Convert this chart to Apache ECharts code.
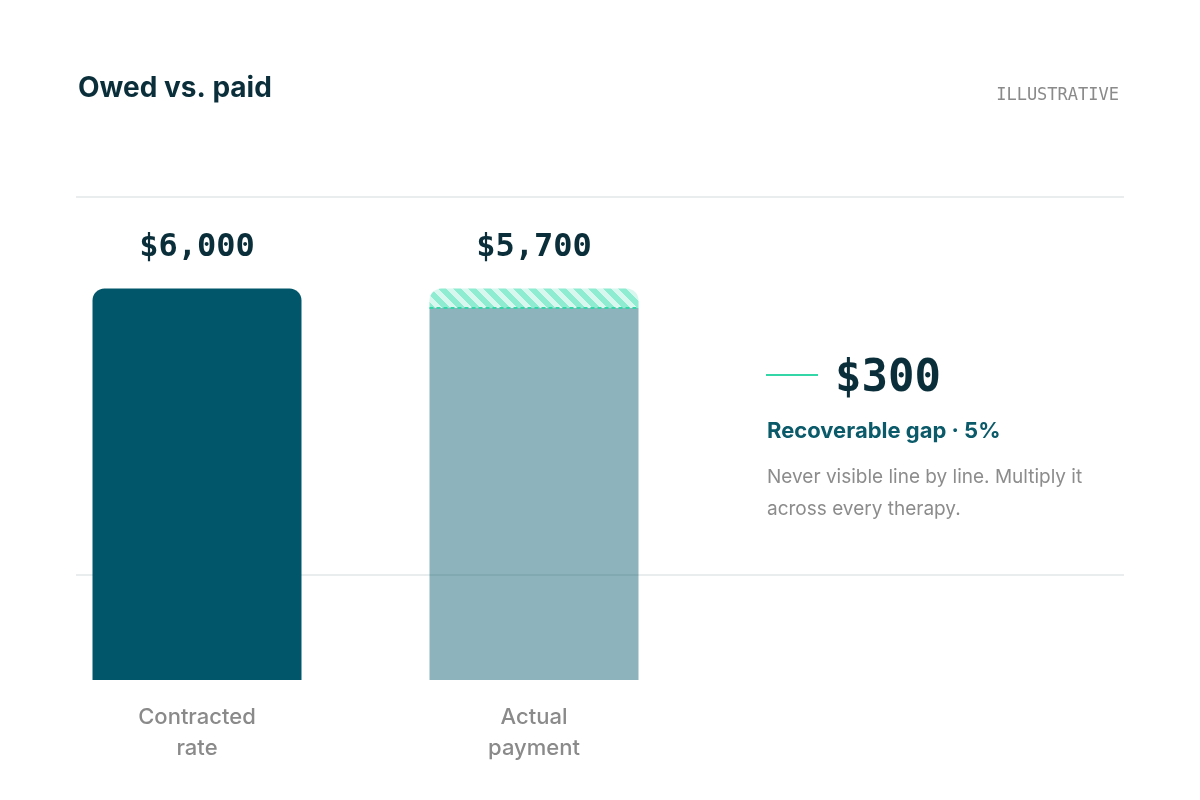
<!DOCTYPE html>
<html>
<head>
<meta charset="utf-8">
<script src="https://cdn.jsdelivr.net/npm/echarts@6/dist/echarts.min.js"></script>
<style>
  html, body { margin: 0; padding: 0; background: #fff; }
  #main { width: 1200px; height: 800px; }
</style>
</head>
<body>
<div id="main"></div>
<script>
// data
var categories = ['Contracted\nrate', 'Actual\npayment'];
var amounts = [6000, 5700];
var gapValues = ['-', amounts[0] - amounts[1]];
var baseValues = [amounts[0], amounts[1]];

var dark = '#0b2f3a';
var teal = '#02566a';
var mint = '#34d6a8';

function money(v) {
    return '$' + v.toLocaleString('en-US');
}

// diagonal stripes for the gap segment
function stripes() {
    var s = 15;
    var c = document.createElement('canvas');
    c.width = s; c.height = s;
    var ctx = c.getContext('2d');
    var img = ctx.createImageData(s, s);
    for (var y = 0; y < s; y++) {
        for (var x = 0; x < s; x++) {
            var on = (((x - y) % s) + s) % s < s / 2;
            var i = (y * s + x) * 4;
            var col = on ? [142, 236, 208] : [216, 247, 238];
            img.data[i] = col[0]; img.data[i + 1] = col[1]; img.data[i + 2] = col[2]; img.data[i + 3] = 255;
        }
    }
    ctx.putImageData(img, 0, 0);
    return { image: c, repeat: 'repeat' };
}

var gap = amounts[0] - amounts[1];
var gapPct = Math.round(gap / amounts[0] * 100);
var sans = 'Inter, "Noto Sans", sans-serif';
var mono = '"DejaVu Sans Mono", monospace';
var barW = 209;

var chart = echarts.init(document.getElementById('main'));
var option = {
    backgroundColor: '#fff',
    animation: false,
    title: [{
        text: 'Owed vs. paid',
        left: 73, top: 70,
        textStyle: { fontFamily: sans, fontSize: 28, fontWeight: 700, color: dark }
    }, {
        text: 'ILLUSTRATIVE',
        right: 76, top: 82,
        textStyle: { fontFamily: mono, fontSize: 17, fontWeight: 400, color: '#8a8a8a' }
    }],
    grid: [
        { left: 76, right: 76, top: 197, height: 378 },
        { left: 28.5, width: 674, top: 197, bottom: 120 }
    ],
    xAxis: [
        { gridIndex: 0, type: 'value', show: false, min: 0, max: 1 },
        {
            gridIndex: 1, type: 'category', data: categories,
            axisLine: { show: false }, axisTick: { show: false },
            axisLabel: { color: '#8a8a8a', fontFamily: sans, fontSize: 22, fontWeight: 500, lineHeight: 31, margin: 22 }
        }
    ],
    yAxis: [
        {
            gridIndex: 0, type: 'value', min: 0, max: 1, interval: 1,
            axisLine: { show: false }, axisTick: { show: false }, axisLabel: { show: false },
            splitLine: { show: true, lineStyle: { color: '#e9eded', width: 2 } }
        },
        { gridIndex: 1, type: 'value', min: 0, max: 7400, show: false, splitLine: { show: false } }
    ],
    series: [
        {
            type: 'bar', xAxisIndex: 1, yAxisIndex: 1, stack: 'owed', barWidth: barW,
            data: [
                {
                    value: baseValues[0],
                    itemStyle: { color: teal, borderRadius: [12, 12, 0, 0] },
                    label: {
                        show: true, position: 'top', distance: 25,
                        formatter: function (p) { return money(p.value); },
                        fontFamily: mono, fontSize: 32, fontWeight: 700, color: dark
                    }
                },
                { value: baseValues[1], itemStyle: { color: 'rgba(2,86,106,0.45)', borderRadius: 0 } }
            ]
        },
        {
            type: 'bar', xAxisIndex: 1, yAxisIndex: 1, stack: 'owed', barWidth: barW,
            data: [
                gapValues[0],
                {
                    value: gapValues[1],
                    itemStyle: { color: stripes(), borderRadius: [12, 12, 0, 0] },
                    label: {
                        show: true, position: 'top', distance: 25,
                        formatter: function () { return money(amounts[1]); },
                        fontFamily: mono, fontSize: 32, fontWeight: 700, color: dark
                    }
                }
            ]
        },
        {
            // dashed edge where the payment stops
            type: 'custom', xAxisIndex: 1, yAxisIndex: 1, z: 5,
            data: [[1, amounts[1]]],
            renderItem: function (params, api) {
                var pt = api.coord([api.value(0), api.value(1)]);
                return {
                    type: 'line',
                    shape: { x1: pt[0] - barW / 2, y1: pt[1], x2: pt[0] + barW / 2, y2: pt[1] },
                    style: { stroke: mint, lineWidth: 2, lineDash: [4, 3] }
                };
            }
        }
    ],
    graphic: [
        { type: 'line', shape: { x1: 766, y1: 375, x2: 818, y2: 375 }, style: { stroke: mint, lineWidth: 2 } },
        {
            type: 'text', left: 835, top: 358,
            style: { text: money(gap), font: '700 44px ' + mono, fill: dark }
        },
        {
            type: 'text', left: 767, top: 420,
            style: { text: 'Recoverable gap · ' + gapPct + '%', font: '700 22px ' + sans, fill: '#0a5a6a' }
        },
        {
            type: 'text', left: 767, top: 461,
            style: {
                text: 'Never visible line by line. Multiply it\nacross every therapy.',
                font: '400 19px ' + sans, fill: '#8c8c8c', lineHeight: 32
            }
        }
    ]
};
chart.setOption(option);
</script>
</body>
</html>
